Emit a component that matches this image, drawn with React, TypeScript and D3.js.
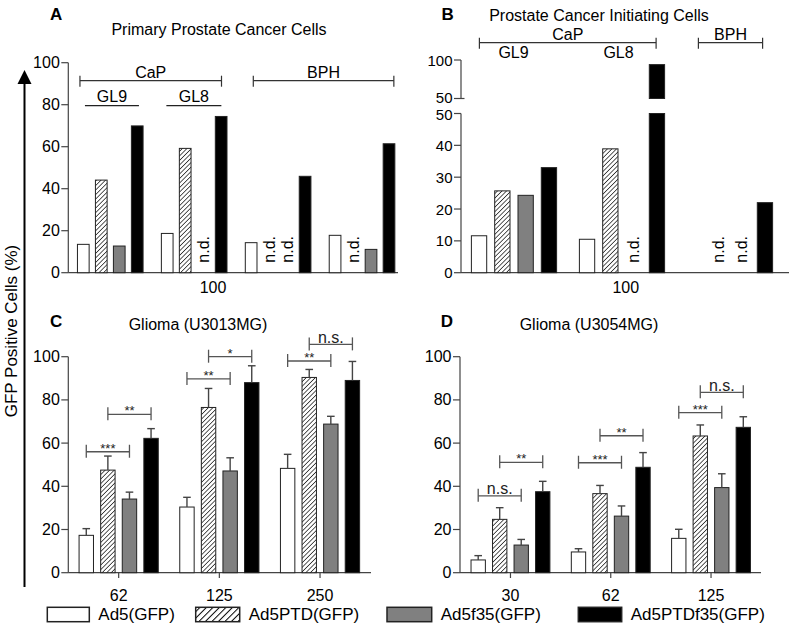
import React from 'react';
import * as d3 from 'd3';

const FONT = "'Liberation Sans', Arial, Helvetica, sans-serif";

const seriesNames = ["Ad5(GFP)", "Ad5PTD(GFP)", "Ad5f35(GFP)", "Ad5PTDf35(GFP)"];
const seriesKeys = ["ad5", "ptd", "f35", "ptdf35"];
const seriesFill = ["#ffffff", "url(#hatch)", "#808080", "#000000"];

// Panel A — Primary Prostate Cancer Cells
const groupsA = ["GL9", "GL8", "BPH1", "BPH2"];
const aAd5 = [13.5, 18.7, 14.3, 17.8];
const aPtd = [44.1, 59.2, null, null];
const aF35 = [12.7, null, null, 11.1];
const aPtdF35 = [69.9, 74.4, 45.9, 61.4];
const ndA: [string, number][] = [["GL8", 2], ["BPH1", 1], ["BPH1", 2], ["BPH2", 1]];
const ticksA = [0, 20, 40, 60, 80, 100];

// Panel B — Prostate Cancer Initiating Cells
const groupsB = ["GL9", "GL8", "BPH"];
const bAd5 = [11.6, 10.5, null];
const bPtd = [25.7, 38.9, null];
const bF35 = [24.3, null, null];
const bPtdF35 = [33.0, 94, 22.0];
const ndB: [string, number][] = [["GL8", 2], ["BPH", 1], ["BPH", 2]];
const ticksBLow = [0, 10, 20, 30, 40, 50];
const ticksBHigh = [50, 100];

// Panel C — Glioma (U3013MG)
const groupsC = ["62", "125", "250"];
const cAd5 = [17.3, 30.4, 48.3];
const cAd5Err = [3.1, 4.5, 6.5];
const cPtd = [47.5, 76.5, 90.4];
const cPtdErr = [6.5, 8.8, 3.7];
const cF35 = [34.1, 47.1, 68.8];
const cF35Err = [3.2, 6.1, 3.6];
const cPtdF35 = [62.2, 88.0, 89.0];
const cPtdF35Err = [4.5, 7.8, 8.8];
const sigC = [
  { g: 0, a: 0, b: 2, y: 56, label: "***" },
  { g: 0, a: 1, b: 3, y: 73.3, label: "**" },
  { g: 1, a: 0, b: 2, y: 89.7, label: "**" },
  { g: 1, a: 1, b: 3, y: 100, label: "*" },
  { g: 2, a: 0, b: 2, y: 98, label: "**" },
  { g: 2, a: 1, b: 3, y: 105.7, label: "n.s." },
];

// Panel D — Glioma (U3054MG)
const groupsD = ["30", "62", "125"];
const dAd5 = [5.9, 9.6, 15.9];
const dAd5Err = [2.0, 1.5, 4.2];
const dPtd = [24.7, 36.6, 63.3];
const dPtdErr = [5.4, 3.8, 5.1];
const dF35 = [12.8, 26.2, 39.4];
const dF35Err = [2.6, 4.7, 6.4];
const dPtdF35 = [37.5, 48.8, 67.3];
const dPtdF35Err = [4.8, 6.8, 4.9];
const sigD = [
  { g: 0, a: 0, b: 2, y: 35.6, label: "n.s." },
  { g: 0, a: 1, b: 3, y: 51.1, label: "**" },
  { g: 1, a: 0, b: 2, y: 50.9, label: "***" },
  { g: 1, a: 1, b: 3, y: 63.4, label: "**" },
  { g: 2, a: 0, b: 2, y: 74.1, label: "***" },
  { g: 2, a: 1, b: 3, y: 83.5, label: "n.s." },
];
const ticksCD = [0, 20, 40, 60, 80, 100];

const AXIS = "#444";
const BAR_STROKE = "#222";

function YTicks({ x, scale, ticks, len = 7, fontSize = 16, dy = [] as number[] }: any) {
  return (
    <g>
      {ticks.map((t: number, i: number) => (
        <g key={i}>
          <line x1={x - len} x2={x} y1={scale(t)} y2={scale(t)} stroke={AXIS} strokeWidth={1.2} />
          <text x={x - len - 1.5} y={scale(t) + 5.5 + (dy[i] || 0)} textAnchor="end" fontSize={fontSize} fill="#000">{t}</text>
        </g>
      ))}
    </g>
  );
}

function BarSet({ groups, values, errs, x, inner, y, yHigh, breakAt }: any) {
  const out: any[] = [];
  groups.forEach((g: string, gi: number) => {
    values.forEach((vals: (number | null)[], si: number) => {
      const v = vals[gi];
      if (v == null) return;
      const x0 = x(g) + inner(seriesKeys[si]);
      const w = inner.bandwidth();
      if (breakAt != null && v > breakAt) {
        out.push(<rect key={`l${gi}-${si}`} x={x0} y={y(breakAt)} width={w} height={y(0) - y(breakAt)} fill={seriesFill[si]} stroke={BAR_STROKE} strokeWidth={1} />);
        out.push(<rect key={`h${gi}-${si}`} x={x0} y={yHigh(v)} width={w} height={yHigh(breakAt) - yHigh(v)} fill={seriesFill[si]} stroke={BAR_STROKE} strokeWidth={1} />);
      } else {
        out.push(<rect key={`b${gi}-${si}`} x={x0} y={y(v)} width={w} height={y(0) - y(v)} fill={seriesFill[si]} stroke={BAR_STROKE} strokeWidth={1} />);
      }
      if (errs) {
        const e = errs[si][gi];
        const cx = x0 + w / 2;
        out.push(
          <g key={`e${gi}-${si}`} stroke="#444" strokeWidth={1.4}>
            <line x1={cx} x2={cx} y1={y(v)} y2={y(v + e)} />
            <line x1={cx - 3.8} x2={cx + 3.8} y1={y(v + e)} y2={y(v + e)} />
          </g>
        );
      }
    });
  });
  return <g>{out}</g>;
}

function NdLabels({ list, x, inner, y0 }: any) {
  return (
    <g>
      {list.map(([g, si]: [string, number], i: number) => {
        const cx = x(g) + inner(seriesKeys[si]) + inner.bandwidth() / 2;
        return (
          <text key={i} transform={`translate(${cx + 5.5},${y0 - 10}) rotate(-90)`} fontSize={16} fill="#000">n.d.</text>
        );
      })}
    </g>
  );
}

function SigBrackets({ list, groups, x, inner, y }: any) {
  return (
    <g>
      {list.map((s: any, i: number) => {
        const g = groups[s.g];
        const xa = x(g) + inner(seriesKeys[s.a]) + inner.bandwidth() / 2;
        const xb = x(g) + inner(seriesKeys[s.b]) + inner.bandwidth() / 2;
        const yy = y(s.y);
        const isNs = s.label === "n.s.";
        return (
          <g key={i}>
            <g stroke="#555" strokeWidth={1.3}>
              <line x1={xa} x2={xb} y1={yy} y2={yy} />
              <line x1={xa} x2={xa} y1={yy - 7} y2={yy + 6} />
              <line x1={xb} x2={xb} y1={yy - 7} y2={yy + 6} />
            </g>
            <text x={(xa + xb) / 2} y={isNs ? yy - 1.5 : yy + 1} textAnchor="middle" fontSize={isNs ? 16 : 13} fill="#222">{s.label}</text>
          </g>
        );
      })}
    </g>
  );
}

function Bracket({ x1, x2, y, label, capUp = 5, capDown = 6 }: any) {
  return (
    <g>
      <g stroke="#333" strokeWidth={1.2}>
        <line x1={x1} x2={x2} y1={y} y2={y} />
        <line x1={x1} x2={x1} y1={y - capUp} y2={y + capDown} />
        <line x1={x2} x2={x2} y1={y - capUp} y2={y + capDown} />
      </g>
      <text x={(x1 + x2) / 2} y={y - 3} textAnchor="middle" fontSize={16} fill="#000">{label}</text>
    </g>
  );
}

export default function App() {
  // ---- Panel A scales
  const yA = d3.scaleLinear().domain([0, 100]).range([272.7, 62.7]);
  const xA = d3.scaleBand<string>().domain(groupsA).range([68.3, 404]).paddingInner(0.218).paddingOuter(0.109);
  const innerA = d3.scaleBand<string>().domain(seriesKeys).range([0, xA.bandwidth()]).paddingInner(0.35);

  // ---- Panel B scales (broken axis)
  const yBLow = d3.scaleLinear().domain([0, 50]).range([272.7, 113.5]);
  const yBHigh = d3.scaleLinear().domain([50, 100]).range([98.5, 60]);
  const xB = d3.scaleBand<string>().domain(groupsB).range([460, 784]).paddingInner(0.211).paddingOuter(0.1055);
  const innerB = d3.scaleBand<string>().domain(seriesKeys).range([0, xB.bandwidth()]).paddingInner(0.343);

  // ---- Panel C/D scales
  const yCD = d3.scaleLinear().domain([0, 100]).range([572.7, 356.7]);
  const xC = d3.scaleBand<string>().domain(groupsC).range([68.3, 370.4]).paddingInner(0.2135).paddingOuter(0.107);
  const innerC = d3.scaleBand<string>().domain(seriesKeys).range([0, xC.bandwidth()]).paddingInner(0.333);
  const xD = d3.scaleBand<string>().domain(groupsD).range([460.3, 761.2]).paddingInner(0.2135).paddingOuter(0.107);
  const innerD = d3.scaleBand<string>().domain(seriesKeys).range([0, xD.bandwidth()]).paddingInner(0.333);

  const gA = (g: string) => xA(g) as number;
  const gB = (g: string) => xB(g) as number;

  const legendX = [47.3, 195.7, 387, 578.3];
  const legendW = [42, 44, 44.7, 43.4];

  return (
    <svg width={789} height={630} viewBox="0 0 789 630" style={{ position: 'absolute', left: 0, top: 0, background: '#fff' }} fontFamily={FONT}>
      <defs>
        <pattern id="hatch" patternUnits="userSpaceOnUse" width={3.2} height={3.2} patternTransform="rotate(45)">
          <rect width={3.2} height={3.2} fill="#fff" />
          <line x1={0} y1={0} x2={0} y2={3.2} stroke="#000" strokeWidth={1.3} />
        </pattern>
        <pattern id="hatchL" patternUnits="userSpaceOnUse" width={4.6} height={4.6} patternTransform="rotate(45)">
          <rect width={4.6} height={4.6} fill="#fff" />
          <line x1={0} y1={0} x2={0} y2={4.6} stroke="#000" strokeWidth={2} />
        </pattern>
      </defs>
      <rect x={0} y={0} width={789} height={630} fill="#fff" />

      {/* Shared y label with arrow */}
      <line x1={24.5} x2={24.5} y1={82} y2={587} stroke="#000" strokeWidth={2} />
      <path d="M17.5,84 L31.5,84 L24.5,70 Z" fill="#000" />
      <text transform="translate(17,331) rotate(-90)" textAnchor="middle" fontSize={17} fill="#000">GFP Positive Cells (%)</text>

      {/* ---------- Panel A ---------- */}
      <text x={50} y={20} fontSize={17} fontWeight="bold">A</text>
      <text x={219} y={34.5} textAnchor="middle" fontSize={16}>Primary Prostate Cancer Cells</text>
      <line x1={68.3} x2={68.3} y1={62.7} y2={272.7} stroke={AXIS} strokeWidth={1.2} />
      <line x1={68.3} x2={398} y1={272.7} y2={272.7} stroke={AXIS} strokeWidth={1.2} />
      <YTicks x={68.3} scale={yA} ticks={ticksA} />
      <BarSet groups={groupsA} values={[aAd5, aPtd, aF35, aPtdF35]} x={xA} inner={innerA} y={yA} />
      <NdLabels list={ndA} x={xA} inner={innerA} y0={272.7} />
      <Bracket x1={gA("GL9") + 2.5} x2={gA("GL8") + xA.bandwidth() - 5.5} y={80.7} label="CaP" />
      <Bracket x1={gA("BPH1") + 8} x2={gA("BPH2") + xA.bandwidth() - 1} y={80.7} label="BPH" />
      <line x1={gA("GL9") + 7.5} x2={gA("GL9") + 61.5} y1={105.7} y2={105.7} stroke="#222" strokeWidth={1.2} />
      <text x={gA("GL9") + 34.5} y={102} textAnchor="middle" fontSize={16}>GL9</text>
      <line x1={gA("GL8") + 5} x2={gA("GL8") + 60} y1={105.7} y2={105.7} stroke="#222" strokeWidth={1.2} />
      <text x={gA("GL8") + 32.5} y={102} textAnchor="middle" fontSize={16}>GL8</text>
      <text x={213} y={293} textAnchor="middle" fontSize={16}>100</text>

      {/* ---------- Panel B ---------- */}
      <text x={441.5} y={20} fontSize={17} fontWeight="bold">B</text>
      <text x={599} y={20.5} textAnchor="middle" fontSize={16}>Prostate Cancer Initiating Cells</text>
      <line x1={461} x2={461} y1={60} y2={98.5} stroke={AXIS} strokeWidth={1.2} />
      <line x1={461} x2={464.5} y1={98.5} y2={98.5} stroke={AXIS} strokeWidth={1.2} />
      <line x1={461} x2={461} y1={113.5} y2={272.7} stroke={AXIS} strokeWidth={1.2} />
      <line x1={461} x2={789} y1={272.7} y2={272.7} stroke={AXIS} strokeWidth={1.2} />
      <YTicks x={461} scale={yBHigh} ticks={ticksBHigh} fontSize={15} dy={[-1.5, 0]} />
      <YTicks x={461} scale={yBLow} ticks={ticksBLow} fontSize={15} dy={[0, 0, 0, 0, 0, 1]} />
      <BarSet groups={groupsB} values={[bAd5, bPtd, bF35, bPtdF35]} x={xB} inner={innerB} y={yBLow} yHigh={yBHigh} breakAt={50} />
      <NdLabels list={ndB} x={xB} inner={innerB} y0={272.7} />
      <Bracket x1={gB("GL9") + 8} x2={gB("GL8") + xB.bandwidth() - 8.5} y={42.7} label="CaP" />
      <Bracket x1={gB("BPH") + 11} x2={gB("BPH") + xB.bandwidth() - 10} y={42.7} label="BPH" />
      <text x={gB("GL9") + xB.bandwidth() / 2 - 0.5} y={58} textAnchor="middle" fontSize={16}>GL9</text>
      <text x={gB("GL8") + xB.bandwidth() / 2 - 3.5} y={58} textAnchor="middle" fontSize={16}>GL8</text>
      <text x={625.8} y={293} textAnchor="middle" fontSize={16}>100</text>

      {/* ---------- Panel C ---------- */}
      <text x={50} y={327} fontSize={17} fontWeight="bold">C</text>
      <text x={198} y={329.5} textAnchor="middle" fontSize={16}>Glioma (U3013MG)</text>
      <line x1={68.3} x2={68.3} y1={356.7} y2={572.7} stroke={AXIS} strokeWidth={1.2} />
      <line x1={68.3} x2={371} y1={572.7} y2={572.7} stroke={AXIS} strokeWidth={1.2} />
      <YTicks x={68.3} scale={yCD} ticks={ticksCD} />
      {groupsC.map((g) => {
        const cx = (xC(g) as number) + xC.bandwidth() / 2;
        return (
          <g key={g}>
            <line x1={cx} x2={cx} y1={572.7} y2={578} stroke={AXIS} strokeWidth={1.2} />
            <text x={cx} y={601} textAnchor="middle" fontSize={16}>{g}</text>
          </g>
        );
      })}
      <BarSet groups={groupsC} values={[cAd5, cPtd, cF35, cPtdF35]} errs={[cAd5Err, cPtdErr, cF35Err, cPtdF35Err]} x={xC} inner={innerC} y={yCD} />
      <SigBrackets list={sigC} groups={groupsC} x={xC} inner={innerC} y={yCD} />

      {/* ---------- Panel D ---------- */}
      <text x={440.7} y={327} fontSize={17} fontWeight="bold">D</text>
      <text x={589} y={329.5} textAnchor="middle" fontSize={16}>Glioma (U3054MG)</text>
      <line x1={460} x2={460} y1={356.7} y2={572.7} stroke={AXIS} strokeWidth={1.2} />
      <line x1={460} x2={761} y1={572.7} y2={572.7} stroke={AXIS} strokeWidth={1.2} />
      <YTicks x={460} scale={yCD} ticks={ticksCD} />
      {groupsD.map((g) => {
        const cx = (xD(g) as number) + xD.bandwidth() / 2;
        return (
          <g key={g}>
            <line x1={cx} x2={cx} y1={572.7} y2={578} stroke={AXIS} strokeWidth={1.2} />
            <text x={cx} y={601} textAnchor="middle" fontSize={16}>{g}</text>
          </g>
        );
      })}
      <BarSet groups={groupsD} values={[dAd5, dPtd, dF35, dPtdF35]} errs={[dAd5Err, dPtdErr, dF35Err, dPtdF35Err]} x={xD} inner={innerD} y={yCD} />
      <SigBrackets list={sigD} groups={groupsD} x={xD} inner={innerD} y={yCD} />

      {/* ---------- Legend ---------- */}
      {seriesNames.map((name, i) => (
        <g key={name}>
          <rect x={legendX[i]} y={607.3} width={legendW[i]} height={14.4} fill={i === 1 ? "url(#hatchL)" : seriesFill[i]} stroke="#222" strokeWidth={1.5} />
          <text x={legendX[i] + legendW[i] + 9} y={620} fontSize={17}>{name}</text>
        </g>
      ))}
    </svg>
  );
}
